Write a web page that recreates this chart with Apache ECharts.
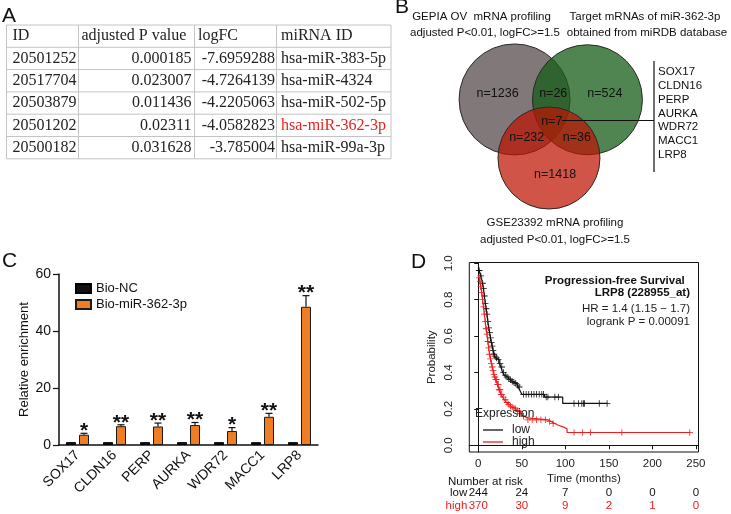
<!DOCTYPE html>
<html>
<head>
<meta charset="utf-8">
<script src="https://cdn.jsdelivr.net/npm/echarts@6/dist/echarts.min.js"></script>
<style>html,body{margin:0;padding:0;background:#fff}#chart{width:731px;height:514px}</style>
</head>
<body>
<div id="chart"></div>
<script>
// ---------- Panel A: table ----------
const tableHeaders = ['ID', 'adjusted P value', 'logFC', 'miRNA ID'];
const tableIds = ['20501252', '20517704', '20503879', '20501202', '20500182'];
const tablePValues = ['0.000185', '0.023007', '0.011436', '0.02311', '0.031628'];
const tableLogFC = ['-7.6959288', '-4.7264139', '-4.2205063', '-4.0582823', '-3.785004'];
const tableMiRNA = ['hsa-miR-383-5p', 'hsa-miR-4324', 'hsa-miR-502-5p', 'hsa-miR-362-3p', 'hsa-miR-99a-3p'];
const highlightMiRNA = 'hsa-miR-362-3p';

// ---------- Panel B: Venn ----------
const vennTitles = [
  ['GEPIA OV  mRNA profiling', 'adjusted P<0.01, logFC>=1.5'],
  ['Target mRNAs of miR-362-3p', 'obtained from miRDB database'],
  ['GSE23392 mRNA profiling', 'adjusted P<0.01, logFC>=1.5']
];
const vennCircleCenters = [[30.2, 33.6], [69.8, 33.8], [48.9, 69.1]];
const vennCountLabels = ['n=1236', 'n=26', 'n=524', 'n=7', 'n=232', 'n=36', 'n=1418'];
const vennCountPositions = [[21.0, 29.9], [51.2, 29.9], [79.3, 29.9], [50.4, 47.1], [36.8, 56.8], [64.0, 56.8], [52.2, 79.4]];
const overlapGenes = ['SOX17', 'CLDN16', 'PERP', 'AURKA', 'WDR72', 'MACC1', 'LRP8'];

// ---------- Panel C: RNA pull-down ----------
const enrichGenes = ['SOX17', 'CLDN16', 'PERP', 'AURKA', 'WDR72', 'MACC1', 'LRP8'];
const ncValues = [1, 1, 1, 1, 1, 1, 1];
const mirValues = [3.6, 6.6, 6.5, 7.0, 4.9, 9.9, 48.5];
const mirErrors = [0.5, 0.5, 1.2, 0.9, 1.2, 1.2, 3.9];
const significance = ['*', '**', '**', '**', '*', '**', '**'];

// ---------- Panel D: Kaplan-Meier ----------
const lowTimes = [0, 1, 2, 3, 4, 5, 6, 7, 8, 9, 10, 11, 12, 13, 14, 15, 16, 17, 18, 19, 20, 22, 24, 26, 28, 30, 32, 34, 36, 38, 40, 42, 44, 46, 48, 50, 76, 97, 148];
const lowSurv = [0.975, 0.96, 0.945, 0.93, 0.91, 0.89, 0.86, 0.82, 0.78, 0.75, 0.72, 0.68, 0.645, 0.62, 0.59, 0.565, 0.545, 0.52, 0.50, 0.49, 0.48, 0.47, 0.45, 0.43, 0.40, 0.385, 0.375, 0.365, 0.36, 0.35, 0.345, 0.34, 0.33, 0.32, 0.30, 0.28, 0.265, 0.23, 0.23];
const highTimes = [0, 1, 2, 3, 4, 5, 6, 7, 8, 9, 10, 11, 12, 13, 14, 15, 16, 17, 18, 19, 20, 22, 24, 26, 28, 30, 32, 34, 36, 38, 40, 42, 44, 46, 48, 50, 53, 56, 80, 84, 88, 92, 98, 102, 243];
const highSurv = [0.935, 0.92, 0.90, 0.87, 0.84, 0.80, 0.76, 0.72, 0.68, 0.64, 0.61, 0.57, 0.535, 0.50, 0.475, 0.45, 0.43, 0.41, 0.39, 0.375, 0.36, 0.335, 0.305, 0.28, 0.265, 0.25, 0.235, 0.225, 0.215, 0.21, 0.205, 0.20, 0.19, 0.185, 0.175, 0.16, 0.15, 0.14, 0.13, 0.12, 0.11, 0.10, 0.09, 0.07, 0.07];
const lowCensorTimes = [1, 3, 5, 6, 7, 8, 9, 10, 11, 12, 13, 14, 15, 16, 17, 18, 19, 21, 23, 25, 27, 29, 31, 33, 35, 37, 39, 41, 43, 45, 47, 52, 55, 58, 61, 64, 67, 70, 73, 75, 78, 80, 88, 92, 110, 115, 119, 121, 122, 139, 148];
const highCensorTimes = [1, 2, 3, 4, 5, 6, 7, 8, 9, 10, 11, 12, 13, 14, 15, 16, 17, 18, 19, 20, 21, 22, 23, 24, 25, 26, 27, 29, 31, 33, 35, 37, 39, 41, 43, 45, 47, 49, 52, 57, 62, 67, 72, 77, 82, 86, 110, 120, 129, 165, 243];
const kmTimeTicks = [0, 50, 100, 150, 200, 250];
const kmProbTicks = [0, 0.2, 0.4, 0.6, 0.8, 1.0];
const riskGroups = ['low', 'high'];
const riskLow = [244, 24, 7, 0, 0, 0];
const riskHigh = [370, 30, 9, 2, 1, 0];
const kmAnnotations = ['Progression-free Survival ', 'LRP8 (228955_at)', 'HR = 1.4 (1.15 \u2212 1.7)', 'logrank P = 0.00091'];

// ---------- helpers ----------
const SANS = '"Liberation Sans", Arial, Helvetica, sans-serif';
const SERIF = '"Liberation Serif", "Times New Roman", serif';
const RED = '#ee1c1c';
function stepValue(times, surv, t) {
  let v = surv[0];
  for (let i = 0; i < times.length; i++) { if (times[i] <= t) v = surv[i]; }
  return v;
}
function txt(text, x, y, opts) {
  opts = opts || {};
  return {
    type: 'text', silent: true, z: 50,
    style: {
      text: text, x: x, y: y,
      font: opts.font || ('12px ' + SANS),
      fill: opts.fill || '#111',
      textAlign: opts.align || 'left',
      textVerticalAlign: opts.valign || 'middle'
    }
  };
}
function ln(x1, y1, x2, y2, color, w) {
  return { type: 'line', silent: true, z: 50, shape: { x1, y1, x2, y2 }, style: { stroke: color || '#111', lineWidth: w || 1 } };
}

// ---------- graphic: table, labels, annotations ----------
const graphics = [];
graphics.push(txt('A', 2, 16, { font: '21px ' + SANS }));
graphics.push(txt('B', 395, 7, { font: '21px ' + SANS }));
graphics.push(txt('C', 2, 261, { font: '21px ' + SANS }));
graphics.push(txt('D', 411, 262, { font: '21px ' + SANS }));

const colEdges = [6.5, 78.5, 194.5, 276.5, 391];
const tableTop = 25, rowH = 22.3, nRows = tableIds.length + 1;
const tableBorder = '#c4c4c4';
for (let r = 0; r <= nRows; r++) graphics.push(ln(colEdges[0], tableTop + r * rowH, colEdges[4], tableTop + r * rowH, tableBorder, 1));
for (let c = 0; c < colEdges.length; c++) graphics.push(ln(colEdges[c], tableTop, colEdges[c], tableTop + nRows * rowH, tableBorder, 1));
const tFont = '16px ' + SERIF;
const headerX = [12.5, 81.5, 198, 281];
tableHeaders.forEach((h, c) => graphics.push(txt(h, headerX[c], tableTop + rowH / 2, { font: tFont, fill: '#222' })));
tableIds.forEach((id, i) => {
  const y = tableTop + (i + 1.5) * rowH;
  graphics.push(txt(id, 12.5, y, { font: tFont, fill: '#222' }));
  graphics.push(txt(tablePValues[i], 191.5, y, { font: tFont, fill: '#222', align: 'right' }));
  graphics.push(txt(tableLogFC[i], 275, y, { font: tFont, fill: '#222', align: 'right' }));
  graphics.push(txt(tableMiRNA[i], 281, y, { font: tFont, fill: tableMiRNA[i] === highlightMiRNA ? '#e8231d' : '#222' }));
});

const vFont = '11.5px ' + SANS;
graphics.push(txt(vennTitles[0][0], 481.5, 16.5, { font: vFont, align: 'center' }));
graphics.push(txt(vennTitles[0][1], 485, 33.3, { font: vFont, align: 'center' }));
graphics.push(txt(vennTitles[1][0], 645, 16.5, { font: vFont, align: 'center' }));
graphics.push(txt(vennTitles[1][1], 647, 33.3, { font: vFont, align: 'center' }));
graphics.push(txt(vennTitles[2][0], 555, 223.3, { font: vFont, align: 'center' }));
graphics.push(txt(vennTitles[2][1], 555, 240, { font: vFont, align: 'center' }));
graphics.push(ln(562, 120.5, 654, 120.5, '#111', 1.2));
graphics.push(ln(654, 61, 654, 172, '#111', 1.2));
overlapGenes.forEach((g, i) => graphics.push(txt(g, 658, 71.7 + i * 13.9, { font: '11.5px ' + SANS })));

const kFont = '11.5px ' + SANS;
graphics.push(txt(kmAnnotations[0], 688, 280.7, { font: 'bold 11.5px ' + SANS, align: 'right' }));
graphics.push(txt(kmAnnotations[1], 690, 293.3, { font: 'bold 11.5px ' + SANS, align: 'right' }));
graphics.push(txt(kmAnnotations[2], 690, 309, { font: kFont, align: 'right', fill: '#222' }));
graphics.push(txt(kmAnnotations[3], 690, 321.7, { font: kFont, align: 'right', fill: '#222' }));
graphics.push(txt('Expression', 475, 414, { font: '12px ' + SANS, fill: '#222' }));
graphics.push(txt('Number at risk', 448, 481.7, { font: kFont }));

// ---------- series ----------
const errData = mirValues.map((v, i) => [i, v, mirErrors[i], significance[i]]);
const lowLine = lowTimes.map((t, i) => [t, lowSurv[i]]);
const highLine = highTimes.map((t, i) => [t, highSurv[i]]);
const lowCensor = lowCensorTimes.map(t => [t, stepValue(lowTimes, lowSurv, t)]);
const highCensor = highCensorTimes.map(t => [t, stepValue(highTimes, highSurv, t)]);
const plusPath = 'path://M4.4,0H5.6V4.4H10V5.6H5.6V10H4.4V5.6H0V4.4H4.4Z';
const vennColors = ['rgb(128,120,121)', 'rgba(22,92,24,0.75)', 'rgba(190,18,2,0.72)'];
const vennSizes = [111, 110, 102];
const hiddenDot = { color: 'rgba(0,0,0,0)', opacity: 1 };

const option = {
  animation: false,
  backgroundColor: '#fff',
  textStyle: { fontFamily: SANS },
  graphic: { elements: graphics },
  grid: [
    { left: 59, top: 274, right: 413, bottom: 69 },
    { left: 469.3, top: 262.5, right: 32.5, bottom: 62, show: true, borderColor: '#111', borderWidth: 1, backgroundColor: 'transparent' },
    { left: 469.3, right: 32.5, top: 487, height: 25 },
    { left: 459, top: 44, width: 184, height: 165 }
  ],
  legend: [
    {
      data: ['Bio-NC', 'Bio-miR-362-3p'], orient: 'vertical', left: 70, top: 277,
      itemWidth: 15, itemHeight: 9, itemGap: 3, icon: 'rect',
      textStyle: { fontSize: 13, color: '#111', fontFamily: SANS }
    },
    {
      data: ['low', 'high'], orient: 'vertical', left: 478, top: 419, icon: 'rect',
      itemWidth: 20, itemHeight: 1.3, itemGap: 0,
      textStyle: { fontSize: 12, color: '#222', fontFamily: SANS, padding: [0, 0, 0, 4] }
    }
  ],
  xAxis: [
    {
      gridIndex: 0, type: 'category', data: enrichGenes,
      axisLine: { lineStyle: { color: '#111', width: 1.5 } },
      axisTick: { alignWithLabel: true, length: 5, lineStyle: { color: '#111', width: 1.2 } },
      axisLabel: { rotate: 45, fontSize: 14, color: '#111', margin: 8, interval: 0 }
    },
    {
      gridIndex: 1, type: 'value', min: -10.3, max: 253,
      axisLine: { show: true, lineStyle: { color: '#111' } },
      axisTick: { show: true, length: 4, customValues: kmTimeTicks, lineStyle: { color: '#111' } },
      axisLabel: { customValues: kmTimeTicks, fontSize: 11.5, color: '#222', margin: 6 },
      splitLine: { show: false },
      name: 'Time (months)', nameLocation: 'middle', nameGap: 21,
      nameTextStyle: { fontSize: 11.5, color: '#222' }
    },
    { gridIndex: 2, type: 'value', min: -10.3, max: 253, show: false },
    { gridIndex: 3, type: 'value', min: 0, max: 100, show: false }
  ],
  yAxis: [
    {
      gridIndex: 0, type: 'value', min: 0, max: 60, interval: 20,
      axisLine: { show: true, lineStyle: { color: '#111', width: 1.5 } },
      axisTick: { show: true, length: 6, lineStyle: { color: '#111', width: 1.2 } },
      axisLabel: { fontSize: 14, color: '#111', margin: 8 },
      splitLine: { show: false },
      name: 'Relative enrichment', nameLocation: 'middle', nameGap: 28,
      nameTextStyle: { fontSize: 13, color: '#111' }
    },
    {
      gridIndex: 1, type: 'value', min: -0.037, max: 1.004,
      axisLine: { show: true, lineStyle: { color: '#111' } },
      axisTick: { show: true, length: 4, customValues: kmProbTicks, lineStyle: { color: '#111' } },
      axisLabel: { customValues: kmProbTicks, rotate: 90, fontSize: 11.5, color: '#222', margin: 14, formatter: v => v.toFixed(1) },
      splitLine: { show: false },
      name: 'Probability', nameLocation: 'middle', nameGap: 31,
      nameTextStyle: { fontSize: 11.5, color: '#222' }
    },
    {
      gridIndex: 2, type: 'category', data: riskGroups, inverse: true,
      axisLine: { show: false }, axisTick: { show: false },
      axisLabel: { interval: 0, fontSize: 11.5, margin: 2, color: (v) => v === 'high' ? RED : '#111' }
    },
    { gridIndex: 3, type: 'value', min: 0, max: 100, inverse: true, show: false }
  ],
  series: [
    {
      name: 'Bio-NC', type: 'bar', xAxisIndex: 0, yAxisIndex: 0, data: ncValues,
      barWidth: 10, barGap: '30%',
      itemStyle: { color: '#111', borderColor: '#000', borderWidth: 1 }
    },
    {
      name: 'Bio-miR-362-3p', type: 'bar', xAxisIndex: 0, yAxisIndex: 0, data: mirValues,
      barWidth: 10,
      itemStyle: { color: '#f07d22', borderColor: '#1a1a1a', borderWidth: 1 }
    },
    {
      name: 'err', type: 'custom', xAxisIndex: 0, yAxisIndex: 0, data: errData, silent: true, z: 5,
      renderItem: function (params, api) {
        const base = api.coord([api.value(0), api.value(1)]);
        const top = api.coord([api.value(0), api.value(1) + api.value(2)]);
        const x = base[0] + 6.5;
        return {
          type: 'group', children: [
            { type: 'line', shape: { x1: x, y1: base[1], x2: x, y2: top[1] }, style: { stroke: '#111', lineWidth: 1.2 } },
            { type: 'line', shape: { x1: x - 3.5, y1: top[1], x2: x + 3.5, y2: top[1] }, style: { stroke: '#111', lineWidth: 1.2 } },
            { type: 'text', style: { text: errData[params.dataIndex][3], x: x, y: top[1] - 2, textAlign: 'center', textVerticalAlign: 'middle', font: 'bold 21px ' + SANS, fill: '#111' } }
          ]
        };
      }
    },
    {
      name: 'low', type: 'line', xAxisIndex: 1, yAxisIndex: 1, data: lowLine, step: 'end',
      showSymbol: false, color: '#111', lineStyle: { color: '#111', width: 1.2 }, z: 3
    },
    {
      name: 'high', type: 'line', xAxisIndex: 1, yAxisIndex: 1, data: highLine, step: 'end',
      showSymbol: false, color: RED, lineStyle: { color: RED, width: 1.2 }, z: 4
    },
    {
      name: 'low censored', type: 'scatter', xAxisIndex: 1, yAxisIndex: 1, data: lowCensor,
      symbol: plusPath, symbolSize: 6.5, itemStyle: { color: '#111', opacity: 1 }, z: 3, silent: true
    },
    {
      name: 'high censored', type: 'scatter', xAxisIndex: 1, yAxisIndex: 1, data: highCensor,
      symbol: plusPath, symbolSize: 6.5, itemStyle: { color: RED, opacity: 1 }, z: 4, silent: true
    },
    {
      name: 'risk low', type: 'scatter', xAxisIndex: 2, yAxisIndex: 2, silent: true,
      data: riskLow.map((n, i) => [kmTimeTicks[i], 'low', n]),
      symbolSize: 1, itemStyle: hiddenDot,
      label: { show: true, position: 'inside', formatter: p => String(p.value[2]), fontSize: 11.5, color: '#111', textBorderWidth: 0, opacity: 1 }
    },
    {
      name: 'risk high', type: 'scatter', xAxisIndex: 2, yAxisIndex: 2, silent: true,
      data: riskHigh.map((n, i) => [kmTimeTicks[i], 'high', n]),
      symbolSize: 1, itemStyle: hiddenDot,
      label: { show: true, position: 'inside', formatter: p => String(p.value[2]), fontSize: 11.5, color: RED, textBorderWidth: 0, opacity: 1 }
    },
    {
      name: 'venn', type: 'scatter', xAxisIndex: 3, yAxisIndex: 3, silent: true,
      data: vennCircleCenters.map((c, i) => ({
        value: c, symbolSize: vennSizes[i],
        itemStyle: { color: vennColors[i], borderColor: '#2a2a2a', borderWidth: 1, opacity: 1 }
      }))
    },
    {
      name: 'venn counts', type: 'scatter', xAxisIndex: 3, yAxisIndex: 3, silent: true, z: 10,
      data: vennCountPositions.map((p, i) => ({ value: p, name: vennCountLabels[i] })),
      symbolSize: 1, itemStyle: hiddenDot,
      label: { show: true, position: 'inside', formatter: p => p.name, fontSize: 12.5, color: '#111', textBorderWidth: 0, textShadowBlur: 0, opacity: 1 }
    }
  ]
};
const chart = echarts.init(document.getElementById('chart'), null, { renderer: 'canvas' });
chart.setOption(option);
</script>
</body>
</html>
